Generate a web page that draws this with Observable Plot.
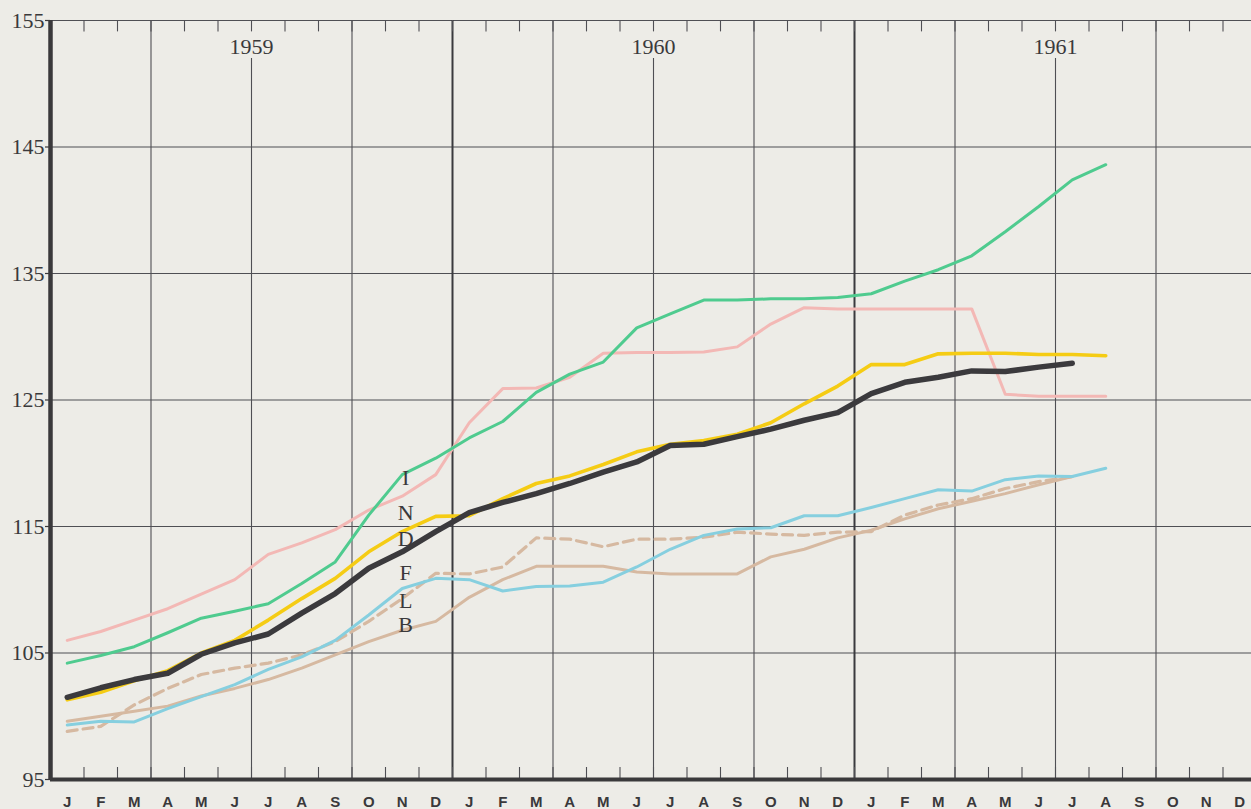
<!DOCTYPE html>
<html>
<head>
<meta charset="utf-8">
<script src="https://cdn.jsdelivr.net/npm/d3@7"></script>
<script src="https://cdn.jsdelivr.net/npm/@observablehq/plot@0.6"></script>
<style>
  html, body { margin: 0; padding: 0; background: #edece7; }
  #chart { width: 1251px; height: 809px; overflow: hidden; }
</style>
</head>
<body>
<div id="chart"></div>
<script>
// Month index k = 0 is January 1959; points sit at the middle of each month.
const monthLetters = ["J","F","M","A","M","J","J","A","S","O","N","D"];
const years = ["1959", "1960", "1961"];
const yTicks = [95, 105, 115, 125, 135, 145, 155];
const hGrid = [105, 115, 125, 135, 145, 155];

const seriesI = [104.2, 104.8, 105.5, 106.6, 107.75, 108.3, 108.9, 110.5, 112.2, 115.9, 119.1, 120.4,
                 122.0, 123.3, 125.6, 127.05, 128.0, 130.7, 131.8, 132.9, 132.9, 133.0, 133.0, 133.1,
                 133.4, 134.4, 135.3, 136.4, 138.3, 140.3, 142.4, 143.6];
const seriesPink = [106.0, 106.7, 107.6, 108.5, 109.65, 110.8, 112.8, 113.7, 114.75, 116.3, 117.4, 119.1,
                    123.2, 125.9, 125.95, 126.8, 128.7, 128.75, 128.75, 128.8, 129.2, 131.0, 132.3, 132.2,
                    132.2, 132.2, 132.2, 132.2, 125.45, 125.3, 125.3, 125.3];
const seriesN = [101.3, 101.9, 102.8, 103.6, 105.0, 106.0, 107.6, 109.3, 110.9, 113.0, 114.6, 115.8,
                 115.85, 117.2, 118.4, 119.0, 119.9, 120.9, 121.5, 121.8, 122.3, 123.2, 124.7, 126.1,
                 127.8, 127.8, 128.65, 128.7, 128.7, 128.6, 128.6, 128.5];
const seriesD = [101.5, 102.25, 102.9, 103.4, 104.9, 105.8, 106.5, 108.15, 109.7, 111.7, 113.0, 114.6,
                 116.1, 116.9, 117.6, 118.4, 119.3, 120.1, 121.4, 121.5, 122.1, 122.7, 123.4, 124.0,
                 125.5, 126.4, 126.8, 127.3, 127.25, 127.6, 127.9];
const seriesF = [98.8, 99.2, 100.9, 102.2, 103.3, 103.8, 104.2, 104.85, 105.9, 107.5, 109.3, 111.3,
                 111.25, 111.8, 114.1, 114.0, 113.4, 114.0, 114.0, 114.15, 114.55, 114.4, 114.3, 114.55,
                 114.6, 115.9, 116.7, 117.2, 118.0, 118.55, 118.95];
const seriesL = [99.3, 99.6, 99.55, 100.6, 101.55, 102.5, 103.7, 104.7, 106.0, 108.0, 110.1, 110.9,
                 110.8, 109.9, 110.25, 110.3, 110.6, 111.8, 113.2, 114.3, 114.8, 114.9, 115.85, 115.85,
                 116.5, 117.2, 117.9, 117.8, 118.7, 119.0, 118.95, 119.6];
const seriesB = [99.6, 100.0, 100.4, 100.8, 101.6, 102.2, 102.9, 103.8, 104.85, 105.9, 106.8, 107.5,
                 109.4, 110.8, 111.85, 111.85, 111.85, 111.4, 111.25, 111.25, 111.25, 112.6, 113.2, 114.1,
                 114.7, 115.6, 116.4, 117.0, 117.6, 118.3, 118.95];

const labelLetters = ["I", "N", "D", "F", "L", "B"];
const labelValues = [118.8, 116.1, 114.0, 111.3, 109.1, 107.2];

// ---- tables built from the arrays ----
const toRows = (vals) => vals.map((v, k) => ({k: k + 0.5, v}));
const monthRows = d3.range(36).map(k => ({k: k + 0.5, t: monthLetters[k % 12]}));
const yearRows = years.map((t, i) => ({k: i * 12 + 6, t}));
const quarterLines = d3.range(3, 36, 3).filter(k => k % 12 !== 0);
const yearLines = [12, 24];
const monthTicks = d3.range(1, 36);
const labelRows = labelLetters.map((t, i) => ({t, v: labelValues[i]}));

const serif = "'Liberation Serif', 'DejaVu Serif', serif";
const sans = "'Liberation Sans', 'DejaVu Sans', sans-serif";
const ink = "#3a393b";

const chart = Plot.plot({
  width: 1251,
  height: 809,
  marginLeft: 50,
  marginTop: 20,
  marginBottom: 30,
  marginRight: 0,
  x: {domain: [0, 36], range: [50, 1256], axis: null},
  y: {domain: [95, 155], range: [779, 20], axis: null},
  style: {background: "#edece7", fontFamily: serif, overflow: "hidden"},
  marks: [
    // horizontal grid
    Plot.ruleY(hGrid, {y: d => d, stroke: "#4f4f54", strokeWidth: 1.1}),
    // quarter grid lines (stopping below the year labels in mid-year)
    Plot.ruleX(quarterLines, {x: d => d, y1: 95, y2: d => (d % 12 === 6 ? 152.0 : 155), stroke: "#4f4f54", strokeWidth: 1.1}),
    // year boundaries
    Plot.ruleX(yearLines, {x: d => d, y1: 95, y2: 155, stroke: "#3a3a3e", strokeWidth: 2}),
    // monthly ticks, top and bottom
    Plot.ruleX(monthTicks, {x: d => d, y1: 155, y2: 154.1, stroke: "#4f4f54", strokeWidth: 1.1}),
    Plot.ruleX(monthTicks, {x: d => d, y1: 95, y2: 95.95, stroke: "#4f4f54", strokeWidth: 1.1}),
    // lines
    Plot.line(toRows(seriesB), {x: "k", y: "v", stroke: "#d6b9a1", strokeWidth: 3}),
    Plot.line(toRows(seriesF), {x: "k", y: "v", stroke: "#d6b9a1", strokeWidth: 3.2, strokeDasharray: "10,6"}),
    Plot.line(toRows(seriesL), {x: "k", y: "v", stroke: "#86cfdf", strokeWidth: 3}),
    Plot.line(toRows(seriesPink), {x: "k", y: "v", stroke: "#f3b8b5", strokeWidth: 3}),
    Plot.line(toRows(seriesI), {x: "k", y: "v", stroke: "#4fcb8f", strokeWidth: 3}),
    Plot.line(toRows(seriesN), {x: "k", y: "v", stroke: "#f5cc14", strokeWidth: 3.6}),
    Plot.line(toRows(seriesD), {x: "k", y: "v", stroke: "#3b3a3d", strokeWidth: 5.5, strokeLinecap: "round"}),
    // axes
    Plot.ruleY([95], {stroke: ink, strokeWidth: 4}),
    Plot.ruleX([0], {y1: 95, y2: 155, stroke: ink, strokeWidth: 4.5}),
    Plot.ruleY(yTicks, {y: d => d, x1: -0.15, x2: 0, stroke: ink, strokeWidth: 1.2}),
    // y tick labels
    Plot.text(yTicks, {x: 0, y: d => d, text: d => String(d), dx: -6, textAnchor: "end", fontSize: 22, fill: "#3a393b", fontFamily: serif}),
    // month labels
    Plot.text(monthRows, {x: "k", y: 95, text: "t", dy: 23, fontSize: 15, fontWeight: "bold", fill: "#3a393b", fontFamily: sans}),
    // year labels
    Plot.text(yearRows, {x: "k", y: 155, text: "t", dy: 26, fontSize: 22, fill: "#3a393b", fontFamily: serif}),
    // series letters
    Plot.text(labelRows, {x: 10.6, y: "v", text: "t", fontSize: 22, fill: "#3a393b", fontFamily: serif})
  ]
});
document.getElementById("chart").appendChild(chart);
</script>
</body>
</html>
